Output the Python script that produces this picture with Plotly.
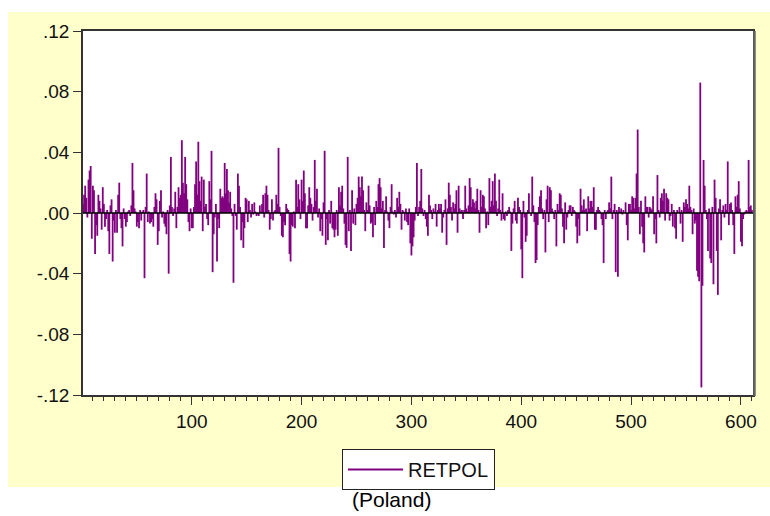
import plotly.graph_objects as go

# ---------------- data ----------------
series_name = "RETPOL"
caption = "(Poland)"

retpol = [
    .006, .012, .018, .010, -.003, .022, .028, .031, -.017, .018,
    .015, -.027, -.008, -.015, .012, .008, .003, -.011, .017, .006,
    -.009, -.004, .002, -.012, -.027, .005, .009, -.032, -.005, -.013,
    .002, -.013, .012, .020, -.004, -.010, -.022, .003, -.004, -.009,
    -.006, .001, .002, -.002, .005, .033, .015, .003, .001, -.009,
    -.006, -.010, .002, -.005, .001, .002, -.043, .004, .026, -.006,
    .001, -.007, -.006, -.004, -.009, .004, .013, .009, -.021, -.012,
    .008, .015, -.003, .001, -.007, -.009, -.014, .002, -.040, .005,
    .037, .004, -.002, .003, .014, -.010, .004, .017, .010, .012,
    .048, .020, .013, .037, .019, .009, -.006, -.012, .003, -.010,
    -.010, .004, .019, .034, .012, .047, .021, .008, .024, -.012,
    .022, .004, .006, -.004, -.008, .021, .009, .041, -.039, -.014,
    -.003, .006, -.032, -.004, -.010, .016, .010, .011, .010, .033,
    .013, .029, .015, .007, .014, .003, -.002, -.046, .006, -.002,
    -.011, .026, .018, .004, -.018, -.006, -.023, -.010, .010, .009,
    -.006, .008, .002, -.003, .006, -.001, .007, .001, -.002, -.001,
    -.002, .005, .001, .006, .012, -.003, .013, .018, .012, .002,
    -.011, -.004, .009, -.005, .001, .002, .012, .006, .043, .004,
    -.002, -.015, -.016, -.006, -.008, .006, .003, .002, -.027, -.032,
    -.008, -.009, .001, -.010, .022, .004, .019, .009, -.004, .022,
    .008, .028, .013, -.010, -.010, .005, .017, .010, .006, -.005,
    .004, .035, .008, .016, -.003, .003, -.012, -.004, -.015, .007,
    .041, -.021, -.004, -.018, .002, -.007, .008, -.010, -.011, -.016,
    -.011, .002, -.015, .017, .005, .014, .018, .003, -.007, -.021,
    -.023, .037, -.012, .002, -.025, .015, -.007, .003, -.008, .006,
    .010, .024, .017, .011, .024, .015, .002, -.012, .007, .002,
    .018, .005, -.007, -.006, -.016, .004, -.008, .008, .004, .019,
    .023, .017, .003, .008, -.023, .002, .011, .001, -.005, -.010,
    .004, .019, .001, -.001, .002, -.003, .010, .004, .014, .006,
    -.011, .002, .001, -.005, .003, -.006, -.008, .003, -.020, -.028,
    -.022, -.016, -.005, .004, .033, -.002, .004, .008, .029, .003,
    -.002, .002, -.004, -.009, -.015, .012, .005, .002, -.004, .003,
    .001, .006, -.009, .002, .006, .003, .006, -.013, -.003, .002,
    .009, -.021, .003, .020, .012, .004, -.005, .007, .003, .006,
    .015, -.013, .018, .003, .001, .002, -.004, .002, .018, .003,
    .001, .005, .023, .017, .004, .009, .007, .003, .008, .016,
    .002, -.013, .015, .004, .012, .011, .003, -.010, .001, -.008,
    .023, .004, .008, .021, .005, .026, .008, -.002, .003, .022,
    .002, -.005, .013, -.004, -.005, .001, -.002, .002, .004, .001,
    -.025, -.007, .003, .008, -.005, -.007, .010, .004, .002, -.024,
    -.043, .008, -.003, -.019, -.015, .002, .013, .000, -.002, .024,
    .005, -.006, -.033, -.031, -.008, .004, .011, .015, .003, -.004,
    .002, -.026, .009, .018, -.006, .017, .015, .003, .001, -.004,
    .002, -.022, .006, .002, .013, .012, .003, -.009, -.020, .007,
    -.011, -.003, .002, .005, .005, -.002, .004, .002, .001, -.009,
    -.020, -.004, -.015, .016, .005, .002, .009, .002, .003, -.012,
    .011, .003, .008, .008, .004, .017, -.011, -.011, .002, .004,
    .002, .001, -.004, -.008, -.033, .002, -.004, .001, .002, .007,
    .003, .024, -.004, .002, .006, -.039, .002, -.042, .004, .001,
    .003, -.001, .002, .000, .007, -.008, -.018, .006, .006, .002,
    .011, .010, .003, .010, .026, .055, .004, -.014, .008, -.009,
    -.020, -.026, .011, .004, .004, -.003, .004, .003, .002, .011,
    -.014, -.004, -.020, .025, .002, -.003, .010, .013, .008, .016,
    -.005, .013, .010, .009, -.005, -.002, .006, -.009, .002, -.010,
    -.017, .002, .000, .004, -.007, .002, -.019, .007, .004, .009,
    .006, .003, .018, .004, .002, -.014, .003, -.007, -.005, -.038,
    -.042, -.045, .086, -.115, -.048, .035, .018, .002, -.004, -.025,
    .003, -.030, -.033, .004, -.047, .022, .010, -.025, -.054, .003,
    .009, -.018, .002, .005, -.003, .006, .002, .034, -.008, .006,
    .007, .002, -.008, -.027, .011, .004, .012, .021, .003, -.019,
    -.022, -.004, -.001, .001, .002, .001, .035, .004, .005, .002,
]
obs = list(range(1, len(retpol) + 1))

x_tick_vals = [100, 200, 300, 400, 500, 600]
y_tick_vals = [0.12, 0.08, 0.04, 0.00, -0.04, -0.08, -0.12]
y_tick_text = [".12", ".08", ".04", ".00", "-.04", "-.08", "-.12"]

# ---------------- build spike segments ----------------
sx, sy = [], []
for xi, v in zip(obs, retpol):
    sx += [xi, xi, None]
    sy += [0, v, None]

FONT = "Liberation Sans, Arial, sans-serif"
PURPLE = "#800080"
FRAME = "#333333"

fig = go.Figure()
fig.add_trace(go.Scatter(
    x=sx, y=sy, mode="lines", name=series_name,
    line=dict(color=PURPLE, width=1.8),
    hoverinfo="skip", showlegend=True,
))

W, H = 770, 516
L, R, T, B = 83, 17, 31, 121
pw, ph = W - L - R, H - T - B

def px_x(p):
    return (p - L) / pw

def px_y(p):
    return (H - B - p) / ph

shapes = [
    # light-yellow graph panel
    dict(type="rect", xref="paper", yref="paper",
         x0=px_x(8), x1=px_x(775), y0=px_y(487), y1=px_y(12),
         fillcolor="#FFFFCC", line=dict(width=0), layer="below"),
    # white plotting area
    dict(type="rect", xref="paper", yref="paper",
         x0=0, x1=1, y0=0, y1=1,
         fillcolor="white", line=dict(width=0), layer="below"),
    # zero line
    dict(type="line", xref="paper", yref="y", x0=0, x1=1, y0=0, y1=0,
         line=dict(color="black", width=1.5), layer="above"),
    # right-side shadow of frame
    dict(type="line", xref="paper", yref="paper",
         x0=1 + 1.5 / pw, x1=1 + 1.5 / pw, y0=-1 / ph, y1=1,
         line=dict(color="#666666", width=2.5), layer="above"),
]

fig.update_layout(
    width=W, height=H,
    margin=dict(l=L, r=R, t=T, b=B, pad=0),
    paper_bgcolor="white", plot_bgcolor="white",
    shapes=shapes,
    showlegend=True,
    legend=dict(
        x=px_x(418.5), xanchor="center",
        y=px_y(449), yanchor="top",
        bgcolor="white", bordercolor="#222222", borderwidth=1,
        font=dict(family=FONT, size=20, color="#111111"),
        itemwidth=55,
    ),
    annotations=[dict(
        text=caption, xref="paper", yref="paper",
        x=px_x(391), y=px_y(500), xanchor="center", yanchor="middle",
        showarrow=False, font=dict(family=FONT, size=21, color="black"),
    )],
    xaxis=dict(
        range=[1, 611], tickmode="array", tickvals=x_tick_vals,
        ticks="outside", ticklen=8, tickwidth=1.3, tickcolor=FRAME,
        showgrid=False, zeroline=False,
        showline=True, linecolor=FRAME, linewidth=1.5, mirror=True,
        tickfont=dict(family=FONT, size=19, color="#111111"),
        minor=dict(dtick=10, tick0=0, ticks="outside", ticklen=4,
                   tickwidth=1, tickcolor=FRAME, showgrid=False),
        fixedrange=True,
    ),
    yaxis=dict(
        range=[-0.12, 0.12], tickmode="array",
        tickvals=y_tick_vals, ticktext=y_tick_text,
        ticks="outside", ticklen=8, tickwidth=1.3, tickcolor=FRAME,
        showgrid=False, zeroline=False,
        showline=True, linecolor=FRAME, linewidth=1.5, mirror=True,
        tickfont=dict(family=FONT, size=19, color="#111111"),
        fixedrange=True,
    ),
)

fig.write_html("out.html")
